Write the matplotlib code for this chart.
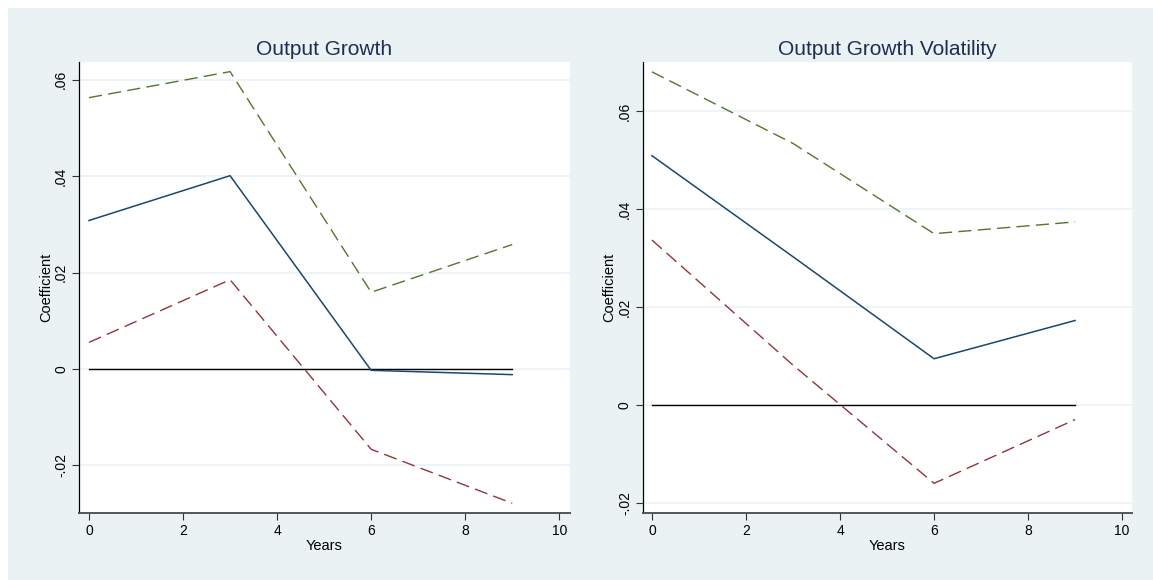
import matplotlib
matplotlib.use("Agg")
import matplotlib.pyplot as plt
from matplotlib.patches import Rectangle

plt.rcParams['font.family'] = ['Liberation Sans', 'DejaVu Sans']

years = [0, 3, 6, 9]

titles = ["Output Growth", "Output Growth Volatility"]

coef_growth = [0.0308, 0.0401, -0.0003, -0.0012]
lower_growth = [0.0055, 0.0185, -0.0167, -0.0279]
upper_growth = [0.0563, 0.0617, 0.0159, 0.0258]
zero_growth = [0, 0, 0, 0]

coef_vol = [0.0509, 0.0303, 0.0095, 0.0173]
lower_vol = [0.0337, 0.0082, -0.0159, -0.0029]
upper_vol = [0.0680, 0.0534, 0.0350, 0.0374]
zero_vol = [0, 0, 0, 0]

yticks = [-0.02, 0, 0.02, 0.04, 0.06]
ytick_labels = ["-.02", "0", ".02", ".04", ".06"]
xticks = [0, 2, 4, 6, 8, 10]

BG = "#EAF2F3"
NAVY = "#1A476F"
MAROON = "#90353B"
GREEN = "#55752F"
TITLE_C = "#1E2D53"

W, H = 1153, 580
fig = plt.figure(figsize=(W / 100, H / 100), dpi=100)
fig.patch.set_facecolor("white")
fig.patches.append(Rectangle((8 / W, 0), 1 - 8 / W, 1 - 8 / H, transform=fig.transFigure,
                             facecolor=BG, edgecolor="none", zorder=-10))

panels = [
    dict(rect=[79.3 / W, 1 - 512.7 / H, (569.6 - 79.3) / W, 450.7 / H],
         xlim=(-0.206, 10.22), ylim=(-0.02986, 0.0637),
         data=(coef_growth, lower_growth, upper_growth, zero_growth)),
    dict(rect=[643 / W, 1 - 512.7 / H, (1132 - 643) / W, 450.7 / H],
         xlim=(-0.19, 10.21), ylim=(-0.02189, 0.0700),
         data=(coef_vol, lower_vol, upper_vol, zero_vol)),
]

for p, title in zip(panels, titles):
    ax = fig.add_axes(p["rect"])
    ax.set_facecolor("white")
    coef, lower, upper, zero = p["data"]
    ax.plot(years, upper, color=GREEN, lw=1.0, dashes=(9.5, 4.5), zorder=3)
    ax.plot(years, lower, color=MAROON, lw=1.0, dashes=(9.5, 4.5), zorder=3)
    ax.plot(years, zero, color="black", lw=1.0, zorder=3)
    ax.plot(years, coef, color=NAVY, lw=1.1, zorder=4)
    ax.set_xlim(*p["xlim"])
    ax.set_ylim(*p["ylim"])
    ax.set_yticks(yticks)
    ax.set_yticklabels(ytick_labels, rotation=90, va="center", fontsize=10)
    ax.set_xticks(xticks)
    ax.set_xticklabels([str(t) for t in xticks], fontsize=10)
    ax.grid(axis="y", color=BG, lw=1.2, zorder=0)
    ax.set_axisbelow(True)
    for s in ["top", "right"]:
        ax.spines[s].set_visible(False)
    ax.spines["left"].set_color("black")
    ax.spines["left"].set_linewidth(0.9)
    ax.spines["bottom"].set_color("#555555")
    ax.spines["bottom"].set_linewidth(1.4)
    ax.tick_params(axis="both", length=5, width=0.8, color="#333333", pad=3, labelcolor="black")
    ax.set_xlabel("Years", fontsize=10.5, labelpad=1)
    ax.set_ylabel("Coefficient", fontsize=10.5, labelpad=1)
    ax.set_title(title, fontsize=15, color=TITLE_C, pad=5)

fig.savefig("out.png", dpi=100, facecolor=fig.get_facecolor())
